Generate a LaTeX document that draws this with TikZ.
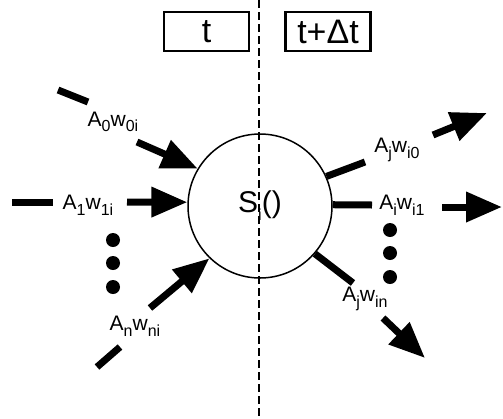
\documentclass[tikz,border=0pt]{standalone}
\usepackage{fontspec}
\setmainfont{Liberation Sans}
\usetikzlibrary{arrows.meta}
\newcommand\lo[1]{\raisebox{-0.27em}{\fontsize{16pt}{16pt}\selectfont #1}}
\begin{document}
\begin{tikzpicture}[x=1pt,y=-1pt,
  lbl/.style={font=\fontsize{21pt}{21pt}\selectfont, inner sep=0pt},
  shaft/.style={line width=7pt, line cap=butt},
  arr/.style={shaft,-{Triangle[length=36pt,width=29pt]}},
  tbox/.style={draw, line width=2.6pt, minimum width=85pt, minimum height=39pt, inner sep=0pt, font=\fontsize{34pt}{34pt}\selectfont},
  dotn/.style={circle, fill, minimum size=14pt, inner sep=0pt},
  divider/.style={line width=1.8pt, dash pattern=on 8pt off 4pt}]
\useasboundingbox (0,0) rectangle (503,418);

% time boxes
\node[tbox] (tb1) at (206.5,31.5) {t};
\node[tbox] (tb2) at (328,31.5) {t+Δt};

% neuron
\node[circle, draw, line width=1.5pt, minimum size=144pt, inner sep=0pt,
      font=\fontsize{30pt}{30pt}\selectfont] (c) at (260,206) {S\lo{i}()};

% divider
\coordinate (dtop) at (259,0);
\coordinate (dbot) at (259,418);
\draw[divider] (dtop) -- (dbot);

% labels
\node[lbl] (l0) at (113,122) {A\lo{0}w\lo{0i}};
\node[lbl] (l1) at (88,205) {A\lo{1}w\lo{1i}};
\node[lbl] (ln) at (135,326) {A\lo{n}w\lo{ni}};
\node[lbl] (r0) at (397,150) {A\lo{j}w\lo{i0}};
\node[lbl] (r1) at (402,205) {A\lo{i}w\lo{i1}};
\node[lbl] (rn) at (365,299) {A\lo{j}w\lo{in}};

% input tails
\coordinate (a0s) at (58,90);  \coordinate (a0e) at (88,102);
\coordinate (a1s) at (12,202); \coordinate (a1e) at (53,202);
\coordinate (ans) at (97,367); \coordinate (ane) at (120,347);
\draw[shaft] (a0s) -- (a0e);
\draw[shaft] (a1s) -- (a1e);
\draw[shaft] (ans) -- (ane);

% input arrows
\coordinate (b0) at (137,142);
\coordinate (b1) at (127,202);
\coordinate (bn) at (150,308);
\draw[arr] (b0) -- (c.149);
\draw[arr] (b1) -- (c.177);
\draw[arr] (bn) -- (c.226);

% output stubs
\coordinate (o0) at (365,162);
\coordinate (o1) at (372,205);
\coordinate (on) at (353,283);
\draw[shaft] (c.24) -- (o0);
\draw[shaft] (c.1) -- (o1);
\draw[shaft] (c.-41) -- (on);

% output arrows
\coordinate (p0s) at (433,135); \coordinate (p0e) at (487,113);
\coordinate (p1s) at (442,207); \coordinate (p1e) at (502,207);
\coordinate (pns) at (383,318); \coordinate (pne) at (425,358);
\draw[arr] (p0s) -- (p0e);
\draw[arr] (p1s) -- (p1e);
\draw[arr] (pns) -- (pne);

% dots
\node[dotn] (dl1) at (113,240) {};
\node[dotn] (dl2) at (113,263) {};
\node[dotn] (dl3) at (113,287) {};
\node[dotn] (dr1) at (390,230) {};
\node[dotn] (dr2) at (390,253) {};
\node[dotn] (dr3) at (390,277) {};
\end{tikzpicture}
\end{document}
